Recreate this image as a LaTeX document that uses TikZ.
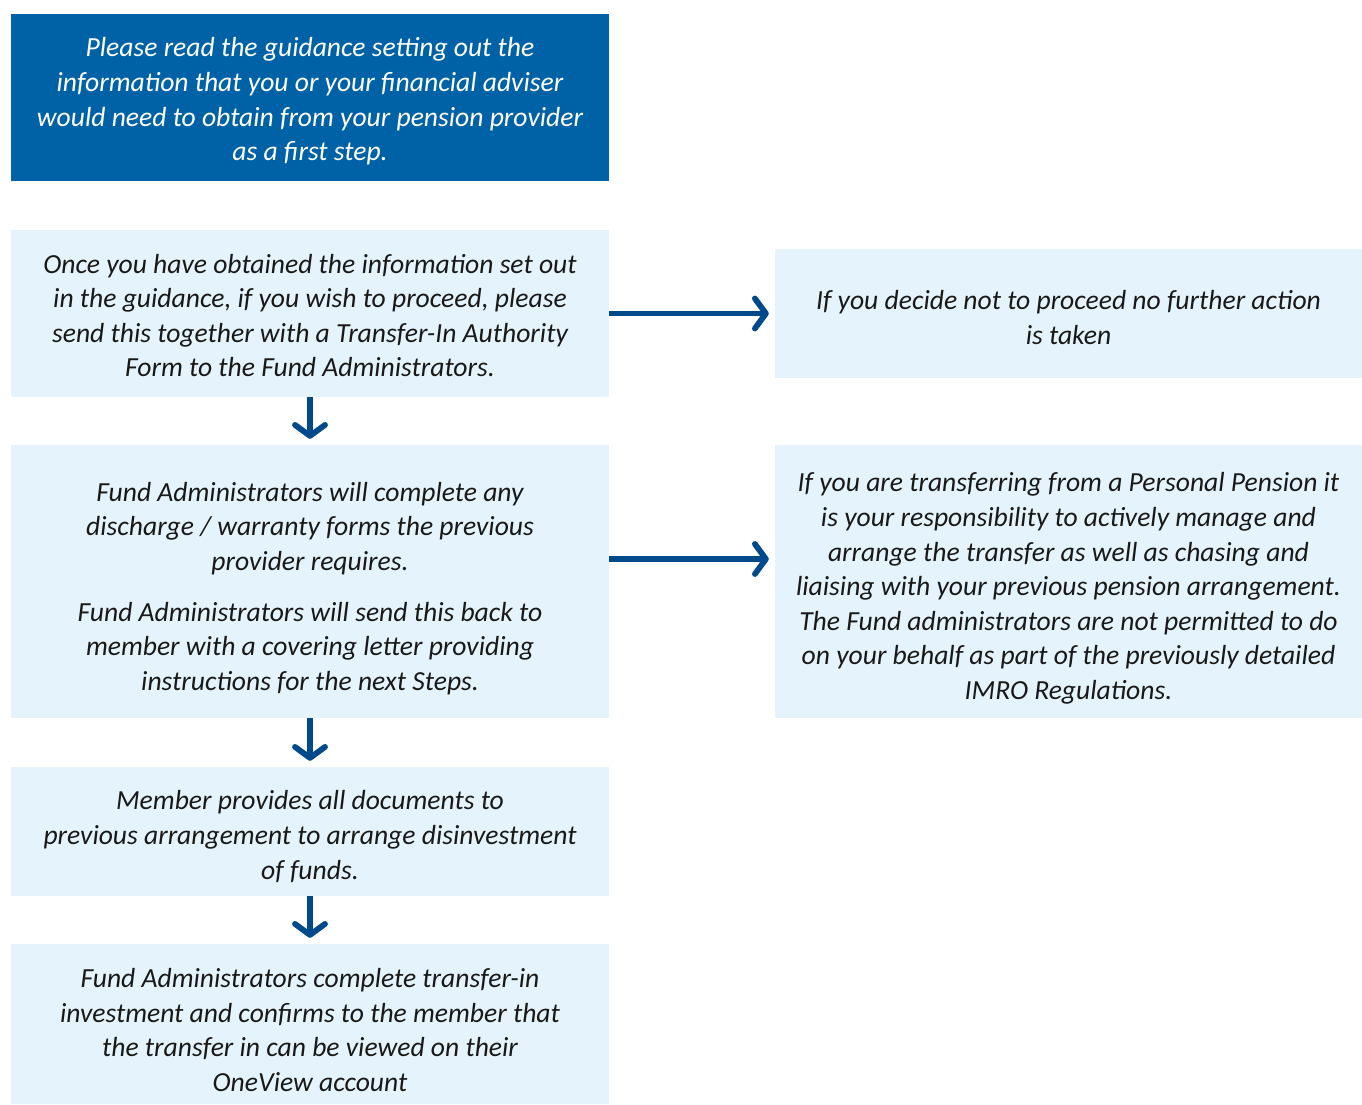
\documentclass[tikz,border=0pt]{standalone}
\usepackage{fontspec}
\setmainfont{Carlito}
\usetikzlibrary{arrows.meta,calc}
\definecolor{darkbox}{RGB}{0,98,166}
\definecolor{lightbox}{RGB}{229,244,252}
\definecolor{arrowblue}{RGB}{0,74,140}
\definecolor{txt}{RGB}{25,25,25}
\tikzset{
  boxbase/.style={inner sep=0pt},
  darkstep/.style={boxbase, fill=darkbox},
  lightstep/.style={boxbase, fill=lightbox},
  boxtext/.style={inner sep=0pt, align=center, font=\fontsize{27.6}{34.6}\selectfont\itshape},
  darktext/.style={boxtext, text=white},
  lighttext/.style={boxtext, text=txt},
  leftw/.style={minimum width=598pt},
  rightw/.style={minimum width=587pt},
  flowarrow/.style={draw=arrowblue, line width=5.8pt, -{Straight Barb[length=11pt, width=30pt, line width=5.8pt, round]}, shorten >=6pt}
}
\begin{document}
\begin{tikzpicture}[x=1pt,y=-1pt]
\useasboundingbox (0,0) rectangle (1362,1104);
\node[darkstep, leftw, minimum height=167pt] (b1) at (310,97.5) {};
\node[lightstep, leftw, minimum height=167pt] (b2) at (310,313.5) {};
\node[lightstep, rightw, minimum height=129pt] (r1) at (1068.5,313.5) {};
\node[lightstep, leftw, minimum height=273pt] (b3) at (310,581.5) {};
\node[lightstep, rightw, minimum height=273pt] (r2) at (1068.5,581.5) {};
\node[lightstep, leftw, minimum height=129pt] (b4) at (310,831.5) {};
\node[lightstep, leftw, minimum height=160pt] (b5) at (310,1024) {};

\node[darktext] (b1t) at ($(b1.center)+(0,4)$)
  {Please read the guidance setting out the\\information that you or your financial adviser\\would need to obtain from your pension provider\\as a first step.};
\node[lighttext] (b2t) at ($(b2.center)+(0,2)$)
  {Once you have obtained the information set out\\in the guidance, if you wish to proceed, please\\send this together with a Transfer-In Authority\\Form to the Fund Administrators.};
\node[lighttext] (r1t) at ($(r1.center)+(0,4)$)
  {If you decide not to proceed no further action\\is taken};
\node[lighttext] (b3t) at ($(b3.center)+(0,7)$)
  {Fund Administrators will complete any\\discharge / warranty forms the previous\\provider requires.\\[16pt]Fund Administrators will send this back to\\member with a covering letter providing\\instructions for the next Steps.};
\node[lighttext] (r2t) at ($(r2.center)+(0,7)$)
  {If you are transferring from a Personal Pension it\\is your responsibility to actively manage and\\arrange the transfer as well as chasing and\\liaising with your previous pension arrangement.\\The Fund administrators are not permitted to do\\on your behalf as part of the previously detailed\\IMRO Regulations.};
\node[lighttext] (b4t) at ($(b4.center)+(0,5)$)
  {Member provides all documents to\\previous arrangement to arrange disinvestment\\of funds.};
\node[lighttext] (b5t) at ($(b5.center)+(0,6)$)
  {Fund Administrators complete transfer-in\\investment and confirms to the member that\\the transfer in can be viewed on their\\OneView account};

\draw[flowarrow] (b2.east) -- (r1.west);
\draw[flowarrow] ($(b3.east)+(0,-22.5)$) -- ($(r2.west)+(0,-22.5)$);
\draw[flowarrow] (b2.south) -- (b3.north);
\draw[flowarrow] (b3.south) -- (b4.north);
\draw[flowarrow] (b4.south) -- (b5.north);
\end{tikzpicture}
\end{document}
